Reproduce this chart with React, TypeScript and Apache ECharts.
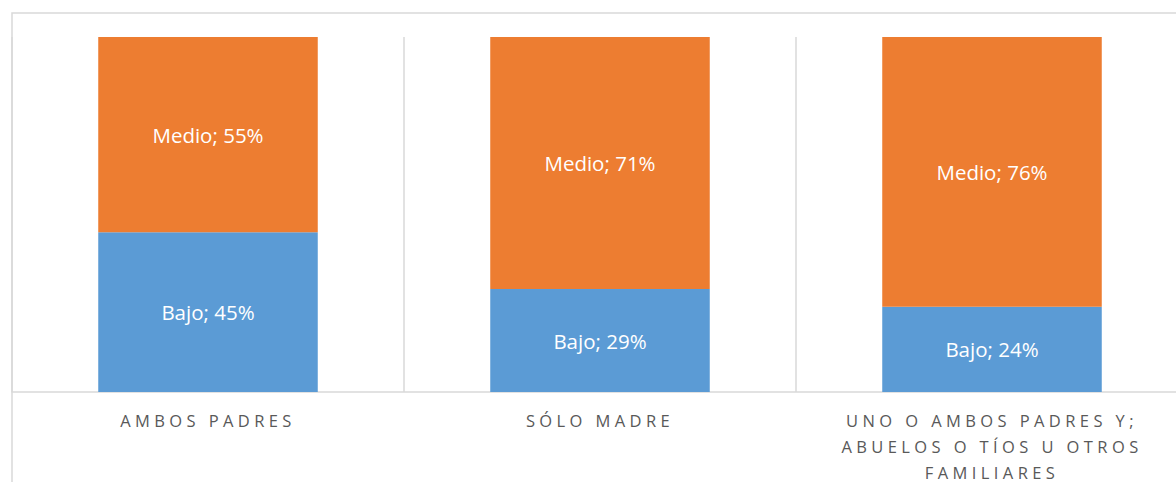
import React, { useEffect, useRef } from "react";
import * as echarts from "echarts";

const categories = ["AMBOS PADRES", "SÓLO MADRE", "UNO O AMBOS PADRES Y; ABUELOS O TÍOS U OTROS FAMILIARES"];
const bajo = [45, 29, 24];
const medio = [55, 71, 76];
const seriesNames = ["Bajo", "Medio"];
const colors = ["#5B9BD5", "#ED7D31"];

function wrap(s: string, max: number): string {
  const words = s.split(" ");
  const lines: string[] = [];
  let cur = "";
  for (const w of words) {
    const t = cur ? cur + " " + w : w;
    if (t.length > max && cur) {
      lines.push(cur);
      cur = w;
    } else cur = t;
  }
  if (cur) lines.push(cur);
  return lines.join("\n");
}

export default function App() {
  const ref = useRef<HTMLDivElement>(null);
  useEffect(() => {
    document.body.style.margin = "0";
    const chart = echarts.init(ref.current!, null, { renderer: "svg" });
    const font = "'Open Sans', 'Noto Sans', sans-serif";
    const mk = (i: number, data: number[]) => ({
      name: seriesNames[i],
      type: "bar",
      stack: "total",
      data,
      barCategoryGap: "44%",
      itemStyle: { color: colors[i] },
      label: {
        show: true,
        position: "inside",
        formatter: "{a}; {c}%",
        color: "#ffffff",
        fontFamily: font,
        fontSize: 20.5,
      },
    });
    chart.setOption({
      animation: false,
      grid: { left: 12, top: 37, width: 1176, height: 355, outerBoundsMode: "none", containLabel: false },
      xAxis: {
        type: "category",
        data: categories,
        axisLine: { lineStyle: { color: "#d9d9d9", width: 1.5 } },
        axisTick: { show: false },
        splitLine: { show: true, lineStyle: { color: "#d9d9d9", width: 1.5 } },
        axisLabel: {
          interval: 0,
          margin: 15,
          color: "#595959",
          fontFamily: font,
          fontSize: 16.5,
          lineHeight: 26,
          verticalAlign: "top",
          formatter: (v: string) => wrap(v, 22),
        },
      },
      yAxis: { type: "value", min: 0, max: 100, show: false, splitLine: { show: false } },
      graphic: [
        {
          type: "rect",
          shape: { x: 12, y: 13, width: 1300, height: 600 },
          style: { fill: "none", stroke: "#d9d9d9", lineWidth: 1.5 },
          silent: true,
        },
      ],
      series: [mk(0, bajo), mk(1, medio)],
    });
    const applySpacing = () => {
      const texts = ref.current?.querySelectorAll("text") || [];
      texts.forEach((t) => {
        const fill = (t.getAttribute("fill") || "").toLowerCase();
        if (fill.includes("595959") || fill.includes("89,89,89") || fill.includes("89, 89, 89")) {
          t.setAttribute("letter-spacing", "4.4");
        }
      });
    };
    applySpacing();
    chart.on("finished", applySpacing);
    return () => chart.dispose();
  }, []);
  return <div ref={ref} style={{ width: 1176, height: 482 }} />;
}
